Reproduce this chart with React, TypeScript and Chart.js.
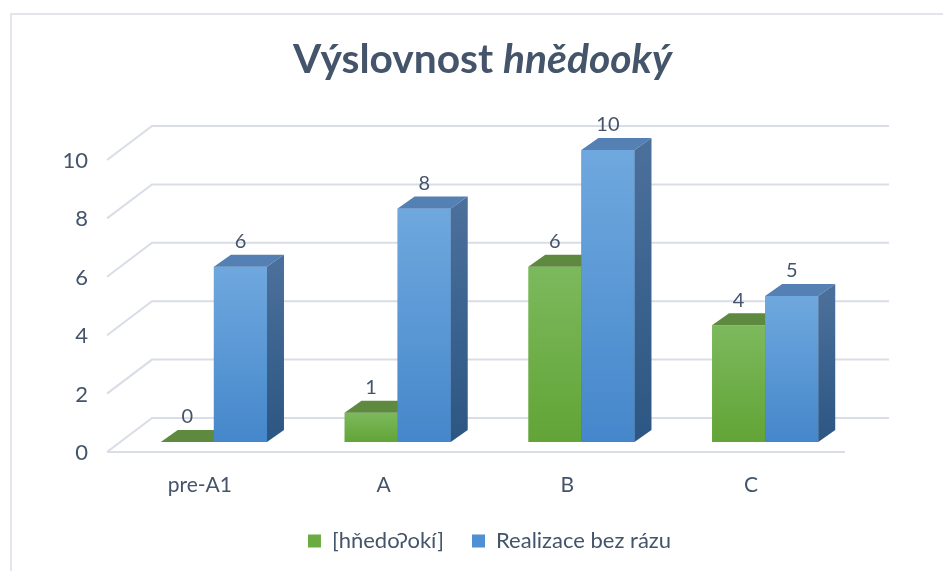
import React, { useEffect, useRef } from "react";
import { Chart, registerables } from "chart.js";

Chart.register(...registerables);

// ---- data ----
const categories = ["pre-A1", "A", "B", "C"];
const seriesNames = ["[hňedoʔokí]", "Realizace bez rázu"];
const glottalValues = [0, 1, 6, 4];
const noGlottalValues = [6, 8, 10, 5];
const yTicks = [0, 2, 4, 6, 8, 10];
const titleMain = "Výslovnost ";
const titleItalic = "hnědooký";

// ---- styles ----
const FONT = 'Lato, "Open Sans", "DejaVu Sans", sans-serif';
const TEXT = "#44546a";
const GRID = "#d9dde6";
const GREEN_TOP = "#7cb95d";
const GREEN_BOT = "#62a436";
const GREEN_CAP = "#5d8a3e";
const GREEN_SIDE_T = "#527a35";
const GREEN_SIDE_B = "#3f6328";
const BLUE_TOP = "#6fa8de";
const BLUE_BOT = "#4587cb";
const BLUE_CAP = "#5480b4";
const BLUE_SIDE_T = "#4a6f9a";
const BLUE_SIDE_B = "#2c5683";
const DX = 17;
const DY = -12;

function gradientFill(topC: string, botC: string) {
  return (ctx: any) => {
    const chart = ctx.chart;
    const ys = chart.scales && chart.scales.y;
    if (!ys || ctx.raw === undefined) return botC;
    const top = ys.getPixelForValue(ctx.raw);
    const bot = ys.getPixelForValue(0);
    if (bot - top < 2) return botC;
    const g = chart.ctx.createLinearGradient(0, top, 0, bot);
    g.addColorStop(0, topC);
    g.addColorStop(1, botC);
    return g;
  };
}

function sideGrad(c: CanvasRenderingContext2D, top: number, bot: number, t: string, b: string) {
  if (bot - top < 2) return b;
  const g = c.createLinearGradient(0, top, 0, bot);
  g.addColorStop(0, t);
  g.addColorStop(1, b);
  return g;
}

function drawFaces(c: CanvasRenderingContext2D, el: any, cap: string, st: string, sb: string, side: boolean) {
  const { x, y, base, width } = el.getProps(["x", "y", "base", "width"], true);
  const x0 = x - width / 2;
  const x1 = x + width / 2;
  c.fillStyle = cap;
  c.beginPath();
  c.moveTo(x0, y);
  c.lineTo(x1, y);
  c.lineTo(x1 + DX, y + DY);
  c.lineTo(x0 + DX, y + DY);
  c.closePath();
  c.fill();
  if (side) {
    c.fillStyle = sideGrad(c, y, base, st, sb);
    c.beginPath();
    c.moveTo(x1, y);
    c.lineTo(x1 + DX, y + DY);
    c.lineTo(x1 + DX, base + DY);
    c.lineTo(x1, base);
    c.closePath();
    c.fill();
  }
}

const threeD = {
  id: "threeD",
  beforeDraw(chart: any) {
    const c: CanvasRenderingContext2D = chart.ctx;
    c.save();
    c.fillStyle = "#ffffff";
    c.fillRect(0, 0, chart.width, chart.height);
    // outer frame
    c.strokeStyle = "#e2e5eb";
    c.lineWidth = 2;
    c.beginPath();
    c.moveTo(11, chart.height);
    c.lineTo(11, 14);
    c.lineTo(chart.width, 14);
    c.stroke();
    // title (mixed bold / bold italic)
    let size = 40;
    c.font = `bold ${size}px ${FONT}`;
    let w1 = c.measureText(titleMain).width;
    c.font = `italic bold ${size}px ${FONT}`;
    let w2 = c.measureText(titleItalic).width;
    size = (size * 379) / (w1 + w2);
    c.font = `bold ${size}px ${FONT}`;
    w1 = c.measureText(titleMain).width;
    c.font = `italic bold ${size}px ${FONT}`;
    w2 = c.measureText(titleItalic).width;
    const start = 482.5 - (w1 + w2) / 2;
    c.fillStyle = TEXT;
    c.textBaseline = "alphabetic";
    c.textAlign = "left";
    c.font = `bold ${size}px ${FONT}`;
    c.fillText(titleMain, start, 73);
    c.font = `italic bold ${size}px ${FONT}`;
    c.fillText(titleItalic, start + w1, 73);
    c.restore();
  },
  beforeDatasetsDraw(chart: any) {
    const c: CanvasRenderingContext2D = chart.ctx;
    const a = chart.chartArea;
    const ys = chart.scales.y;
    c.save();
    c.strokeStyle = GRID;
    c.lineWidth = 2;
    for (const v of yTicks) {
      const p = ys.getPixelForValue(v);
      c.beginPath();
      c.moveTo(a.left - 15, p + 10);
      c.lineTo(a.left + 30, p - 24);
      c.lineTo(a.right + 32, p - 24);
      c.stroke();
    }
    const p0 = ys.getPixelForValue(0);
    c.beginPath();
    c.moveTo(a.left - 15, p0 + 10);
    c.lineTo(a.right - 12, p0 + 10);
    c.stroke();
    c.restore();
  },
  afterDatasetsDraw(chart: any) {
    const c: CanvasRenderingContext2D = chart.ctx;
    const g = chart.getDatasetMeta(0);
    const b = chart.getDatasetMeta(1);
    c.save();
    for (let i = 0; i < categories.length; i++) {
      const ge = g.data[i];
      const be = b.data[i];
      drawFaces(c, ge, GREEN_CAP, GREEN_SIDE_T, GREEN_SIDE_B, true);
      be.draw(c);
      drawFaces(c, be, BLUE_CAP, BLUE_SIDE_T, BLUE_SIDE_B, true);
    }
    // value labels
    c.fillStyle = TEXT;
    c.font = `20px ${FONT}`;
    c.textAlign = "center";
    c.textBaseline = "middle";
    [g, b].forEach((meta: any, di: number) => {
      const vals = di === 0 ? glottalValues : noGlottalValues;
      meta.data.forEach((el: any, i: number) => {
        const { x, y } = el.getProps(["x", "y"], true);
        c.fillText(String(vals[i]), x, y - 25);
      });
    });
    c.restore();
  },
};

export default function App() {
  const ref = useRef<HTMLCanvasElement>(null);
  useEffect(() => {
    const canvas = ref.current!;
    const chart = new Chart(canvas, {
      type: "bar",
      data: {
        labels: categories,
        datasets: [
          {
            label: seriesNames[0],
            data: glottalValues,
            backgroundColor: gradientFill(GREEN_TOP, GREEN_BOT),
            borderWidth: 0,
            categoryPercentage: 0.578,
            barPercentage: 1,
          },
          {
            label: seriesNames[1],
            data: noGlottalValues,
            backgroundColor: gradientFill(BLUE_TOP, BLUE_BOT),
            borderWidth: 0,
            categoryPercentage: 0.578,
            barPercentage: 1,
          },
        ],
      },
      options: {
        responsive: false,
        animation: false,
        devicePixelRatio: 1,
        layout: { padding: { top: 150, left: 0, right: 86, bottom: 9 } },
        scales: {
          x: {
            grid: { display: false, drawTicks: false },
            border: { display: false },
            ticks: {
              color: TEXT,
              font: { family: FONT, size: 21 },
              padding: 31,
              labelOffset: -14,
            },
            afterFit: (s: any) => {
              s.height = 60;
            },
          },
          y: {
            min: 0,
            max: 10,
            grid: { display: false, drawTicks: false },
            border: { display: false },
            ticks: {
              stepSize: 2,
              color: TEXT,
              font: { family: FONT, size: 22 },
              padding: 34,
              labelOffset: 11,
            },
            afterFit: (s: any) => {
              s.width = 122;
            },
          },
        },
        plugins: {
          title: { display: false },
          tooltip: { enabled: false },
          legend: {
            position: "bottom",
            fullSize: false,
            labels: {
              color: TEXT,
              font: { family: FONT, size: 22 },
              boxWidth: 13,
              boxHeight: 13,
              padding: 28,
              generateLabels: (ch: any) => {
                const items = Chart.defaults.plugins.legend.labels.generateLabels(ch);
                const cols = ["#6aab42", "#4f8fd2"];
                items.forEach((it: any, i: number) => {
                  it.fillStyle = cols[i];
                  it.strokeStyle = cols[i];
                  it.lineWidth = 0;
                });
                return items;
              },
            },
          },
        },
      },
      plugins: [threeD],
    });
    return () => chart.destroy();
  }, []);
  return (
    <div style={{ position: "fixed", left: 0, top: 0, width: 943, height: 571, background: "#fff" }}>
      <canvas ref={ref} width={943} height={571} style={{ width: 943, height: 571, display: "block" }} />
    </div>
  );
}
